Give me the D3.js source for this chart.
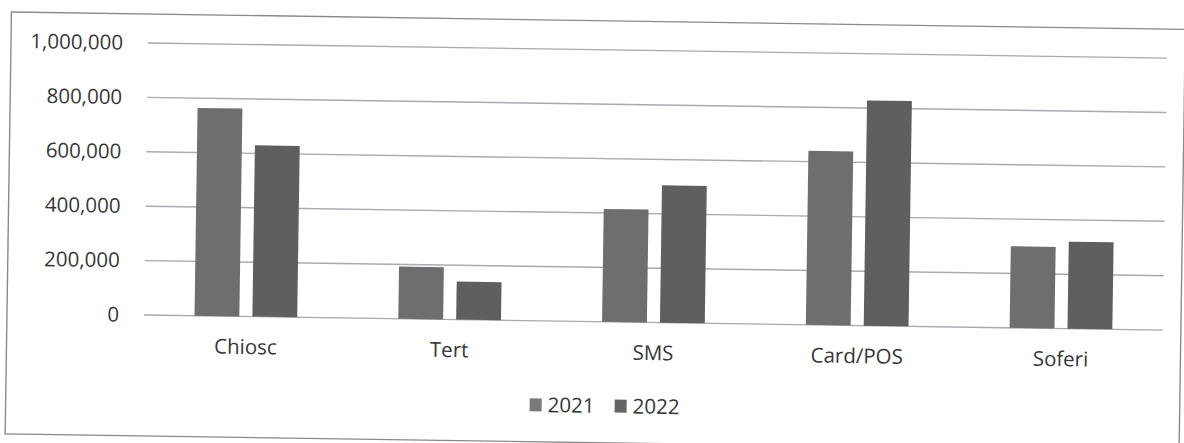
<!DOCTYPE html>
<html>
<head>
<meta charset="utf-8">
<script src="https://cdn.jsdelivr.net/npm/d3@7"></script>
<style>
  html, body { margin: 0; padding: 0; background: #fff; }
  svg { display: block; }
  text { font-family: "Open Sans", Lato, sans-serif; fill: #363636; }
</style>
</head>
<body>
<script>
const categories = ["Chiosc", "Tert", "SMS", "Card/POS", "Soferi"];
const seriesNames = ["2021", "2022"];
const values2021 = [764000, 192000, 415000, 640000, 300000];
const values2022 = [630000, 140000, 505000, 828000, 320000];
const yTicks = [0, 200000, 400000, 600000, 800000, 1000000];

const W = 1184, H = 443;
const colors = ["#6e6e6e", "#5f5f5f"];
const legendColors = ["#7a7a7a", "#656565"];
const FONT = "'Open Sans', Lato, sans-serif";
const FS = 20.5;

const svg = d3.select("body").append("svg").attr("width", W).attr("height", H);
// the scanned chart is slightly tilted
const g = svg.append("g").attr("transform", "rotate(0.85,148,43)");

const plot = { left: 148, right: 1167, top: 43, bottom: 315 };

// outer frame
g.append("rect")
  .attr("x", 11).attr("y", 14)
  .attr("width", 1174).attr("height", 422)
  .attr("fill", "none").attr("stroke", "#8a8a8a").attr("stroke-width", 1.4);

const x0 = d3.scaleBand().domain(categories).range([plot.left, plot.right]).padding(0);
const bw = x0.bandwidth();
const barW = bw * 0.22, innerGap = bw * 0.064;
const x1 = d3.scaleOrdinal().domain(seriesNames)
  .range([-(barW + innerGap / 2), innerGap / 2]);

const y = d3.scaleLinear().domain([0, 1000000]).range([plot.bottom, plot.top]);

// gridlines
g.append("g").selectAll("line").data(yTicks).join("line")
  .attr("x1", plot.left).attr("x2", plot.right)
  .attr("y1", d => y(d)).attr("y2", d => y(d))
  .attr("stroke", "#a9a9b0").attr("stroke-width", 1.4);

// y axis labels
const yAxis = d3.axisLeft(y).tickValues(yTicks).tickSize(0).tickPadding(0)
  .tickFormat(d3.format(","));
const ya = g.append("g").attr("transform", `translate(${plot.left - 25},0)`).call(yAxis);
ya.select(".domain").remove();
ya.selectAll("text").attr("font-size", FS).attr("fill", "#363636")
  .style("font-family", FONT);

// bars
const series = [values2021, values2022];
series.forEach((vals, si) => {
  g.append("g").selectAll("rect").data(categories).join("rect")
    .attr("x", (c) => x0(c) + bw / 2 + x1(seriesNames[si]))
    .attr("y", (c, i) => y(vals[i]))
    .attr("width", barW)
    .attr("height", (c, i) => y(0) - y(vals[i]))
    .attr("fill", colors[si]);
});

// x labels
const xAxis = d3.axisBottom(x0).tickSize(0).tickPadding(0);
const xa = g.append("g").attr("transform", `translate(0,${plot.bottom + 23})`).call(xAxis);
xa.select(".domain").remove();
xa.selectAll("text").attr("font-size", FS).attr("fill", "#363636").attr("dy", "0.71em")
  .style("font-family", FONT);

// legend
const legendX = [535, 620];
const lg = g.append("g").selectAll("g").data(seriesNames).join("g")
  .attr("transform", (d, i) => `translate(${legendX[i]},392)`);
lg.append("rect").attr("width", 12).attr("height", 13).attr("y", 0.5)
  .attr("fill", (d, i) => legendColors[i]);
lg.append("text").attr("x", 18).attr("y", 7).attr("dy", "0.35em")
  .attr("font-size", FS).text(d => d);
</script>
</body>
</html>
